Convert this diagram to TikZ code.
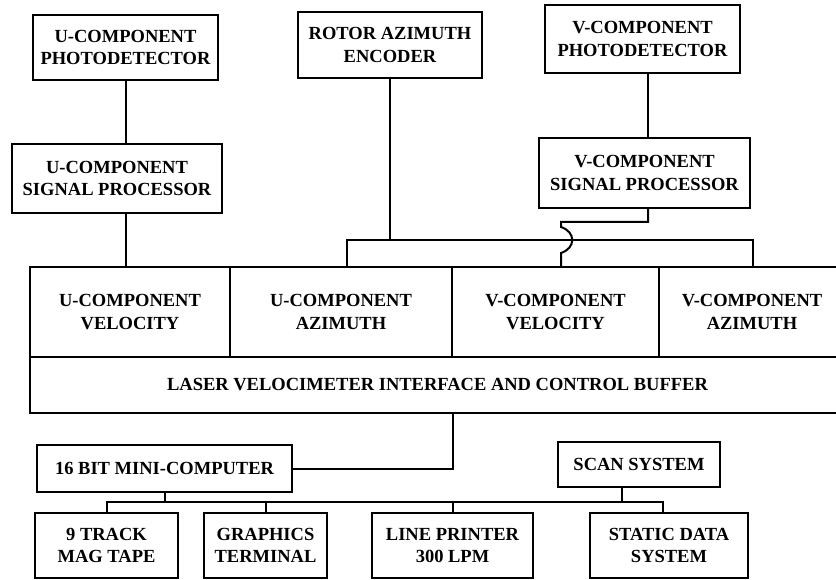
\documentclass[tikz,border=0pt]{standalone}
\usepackage{fontspec}
\setmainfont{Liberation Serif}
\usetikzlibrary{positioning, calc}

\begin{document}
\begin{tikzpicture}[
    x=1pt, y=-1pt,
    block/.style={rectangle, draw, line width=2pt, outer sep=0pt, inner sep=0pt, align=center, font=\bfseries\fontsize{18.5}{22.5}\selectfont},
    cell/.style={block, minimum height=90pt, anchor=north west},
    line/.style={draw, line width=2pt}
]
    \useasboundingbox (0,0) rectangle (836,580);

    % detectors and encoder
    \node [block, minimum width=185pt, minimum height=65pt] (udet) at (125.5,47.5) {U-COMPONENT\\PHOTODETECTOR};
    \node [block, minimum width=184pt, minimum height=66pt] (rotor) at (390,45) {ROTOR AZIMUTH\\ENCODER};
    \node [block, minimum width=195pt, minimum height=68pt] (vdet) at (642.5,39) {V-COMPONENT\\PHOTODETECTOR};
    \node [block, minimum width=210pt, minimum height=69pt] (usp) at (117,178.5) {U-COMPONENT\\SIGNAL PROCESSOR};
    \node [block, minimum width=211pt, minimum height=70pt] (vsp) at (644.5,173) {V-COMPONENT\\SIGNAL PROCESSOR};

    % interface buffer
    \node [cell, minimum width=200pt] (uvel) at (30,267) {U-COMPONENT\\VELOCITY};
    \node [cell, minimum width=222pt, right=0pt of uvel] (uazi) {U-COMPONENT\\AZIMUTH};
    \node [cell, minimum width=207pt, right=0pt of uazi] (vvel) {V-COMPONENT\\VELOCITY};
    \node [cell, minimum width=186pt, right=0pt of vvel] (vazi) {V-COMPONENT\\AZIMUTH};
    \node [block, minimum width=815pt, minimum height=56pt, anchor=north west] (buffer) at (uvel.south west) {LASER VELOCIMETER INTERFACE AND CONTROL BUFFER};

    % computer and peripherals
    \node [block, minimum width=255pt, minimum height=47pt] (comp) at (164.5,468.5) {16 BIT MINI-COMPUTER};
    \node [block, minimum width=162pt, minimum height=45pt] (scan) at (639,464.5) {SCAN SYSTEM};
    \node [block, minimum width=143pt, minimum height=65pt] (tape) at (106.5,545.5) {9 TRACK\\MAG TAPE};
    \node [block, minimum width=123pt, minimum height=65pt] (graph) at (265.5,545.5) {GRAPHICS\\TERMINAL};
    \node [block, minimum width=161pt, minimum height=65pt] (printer) at (452.5,545.5) {LINE PRINTER\\300 LPM};
    \node [block, minimum width=158pt, minimum height=65pt] (static) at (669,545.5) {STATIC DATA\\SYSTEM};

    \coordinate (vline) at (648,0);
    \coordinate (busl) at (347,240);
    \coordinate (busr) at (753,240);
    \coordinate (hop) at (561,240);
    \coordinate (iobus) at (0,502);

    \draw [line] (udet.south) -- (udet.south |- usp.north);
    \draw [line] (udet.south |- usp.south) -- (udet.south |- uvel.north);
    \draw [line] (vline |- vdet.south) -- (vline |- vsp.north);

    \draw [line] (rotor.south) -- (rotor.south |- busl);
    \draw [line] (busl |- uazi.north) -- (busl) -- (busr) -- (busr |- vazi.north);

    % V signal hops over the azimuth bus
    \draw [line] (vline |- vsp.south) |- ($(hop)+(0,-18)$) -- ($(hop)+(0,-13)$)
        .. controls ($(hop)+(15,-8)$) and ($(hop)+(15,8)$) .. ($(hop)+(0,13)$) -- (hop |- vvel.north);

    \draw [line] (comp.east) -| (printer.north |- buffer.south);

    \draw [line] (comp.south) -- (comp.south |- iobus);
    \draw [line] ([xshift=-17pt]scan.south) -- ([xshift=-17pt]scan.south |- iobus);
    \draw [line] (tape.north) -- (tape.north |- iobus) -- ([xshift=-6pt]static.north |- iobus) -- ([xshift=-6pt]static.north);
    \draw [line] (graph.north) -- (graph.north |- iobus);
    \draw [line] (printer.north) -- (printer.north |- iobus);

\end{tikzpicture}
\end{document}
